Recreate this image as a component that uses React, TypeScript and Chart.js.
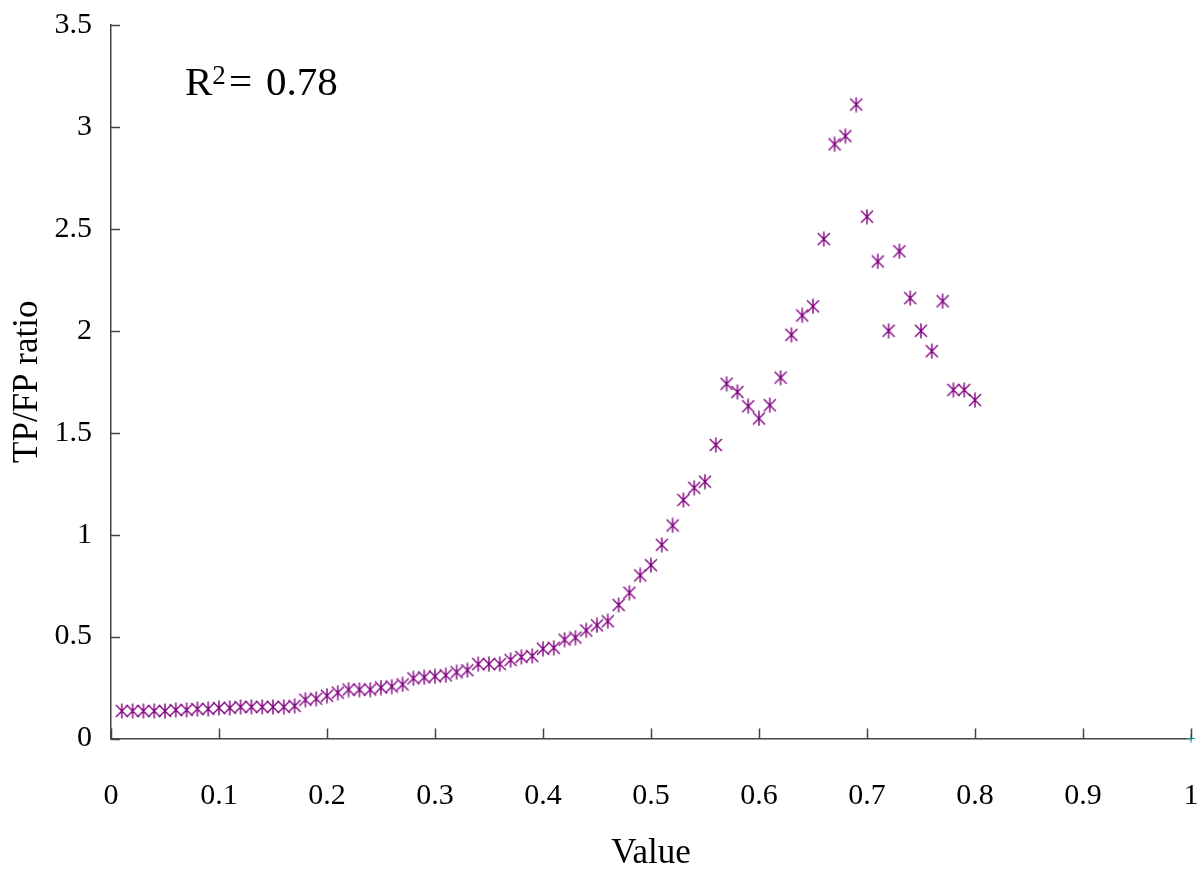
import React, { useEffect, useRef } from "react";
import { Chart, registerables } from "chart.js";

Chart.register(...registerables);

const xValues = [
  0.01, 0.02, 0.03, 0.04, 0.05, 0.06, 0.07, 0.08, 0.09, 0.1,
  0.11, 0.12, 0.13, 0.14, 0.15, 0.16, 0.17, 0.18, 0.19, 0.2,
  0.21, 0.22, 0.23, 0.24, 0.25, 0.26, 0.27, 0.28, 0.29, 0.3,
  0.31, 0.32, 0.33, 0.34, 0.35, 0.36, 0.37, 0.38, 0.39, 0.4,
  0.41, 0.42, 0.43, 0.44, 0.45, 0.46, 0.47, 0.48, 0.49, 0.5,
  0.51, 0.52, 0.53, 0.54, 0.55, 0.56, 0.57, 0.58, 0.59, 0.6,
  0.61, 0.62, 0.63, 0.64, 0.65, 0.66, 0.67, 0.68, 0.69, 0.7,
  0.71, 0.72, 0.73, 0.74, 0.75, 0.76, 0.77, 0.78, 0.79, 0.8,
];

const ratioValues = [
  0.135, 0.135, 0.135, 0.135, 0.135, 0.14, 0.14, 0.145, 0.145, 0.15,
  0.15, 0.155, 0.155, 0.155, 0.155, 0.155, 0.16, 0.19, 0.195, 0.21,
  0.225, 0.24, 0.24, 0.24, 0.25, 0.255, 0.265, 0.295, 0.3, 0.305,
  0.31, 0.325, 0.335, 0.365, 0.365, 0.365, 0.385, 0.4, 0.405, 0.44,
  0.445, 0.485, 0.495, 0.53, 0.555, 0.575, 0.655, 0.715, 0.8, 0.85,
  0.95, 1.045, 1.17, 1.23, 1.26, 1.44, 1.74, 1.7, 1.63, 1.57,
  1.635, 1.77, 1.98, 2.075, 2.12, 2.45, 2.915, 2.955, 3.11, 2.56,
  2.34, 2.0, 2.39, 2.16, 2.0, 1.9, 2.145, 1.71, 1.71, 1.66,
];

const extraX = [1];
const extraY = [0];

const xTickLabels = ["0", "0.1", "0.2", "0.3", "0.4", "0.5", "0.6", "0.7", "0.8", "0.9", "1"];
const yTickLabels = ["0", "0.5", "1", "1.5", "2", "2.5", "3", "3.5"];

const FONT = "'Liberation Serif', 'Times New Roman', serif";

function makeMarker(): HTMLCanvasElement {
  const c = document.createElement("canvas");
  c.width = 14;
  c.height = 16;
  const g = c.getContext("2d")!;
  g.strokeStyle = "#800080";
  g.lineWidth = 1.4;
  g.beginPath();
  g.moveTo(1, 2);
  g.lineTo(13, 14);
  g.moveTo(13, 2);
  g.lineTo(1, 14);
  g.moveTo(7, 0.5);
  g.lineTo(7, 15.5);
  g.stroke();
  return c;
}

const zeroPad = (s: any) => {
  s.paddingLeft = 0;
  s.paddingRight = 0;
  s.paddingTop = 0;
  s.paddingBottom = 0;
};

const innerTicks = {
  id: "innerTicks",
  afterDraw(chart: any) {
    const { ctx, chartArea, scales } = chart;
    ctx.save();
    ctx.strokeStyle = "#444";
    ctx.lineWidth = 1.5;
    ctx.beginPath();
    scales.x.ticks.forEach((t: any) => {
      const px = Math.round(scales.x.getPixelForValue(t.value)) + 0.5;
      ctx.moveTo(px, chartArea.bottom);
      ctx.lineTo(px, chartArea.bottom - 10);
    });
    scales.y.ticks.forEach((t: any) => {
      const py = Math.round(scales.y.getPixelForValue(t.value)) + 0.5;
      ctx.moveTo(chartArea.left, py);
      ctx.lineTo(chartArea.left + 9, py);
    });
    ctx.stroke();
    ctx.restore();
  },
};

const r2Label = {
  id: "r2Label",
  afterDraw(chart: any) {
    const { ctx } = chart;
    ctx.save();
    ctx.fillStyle = "#000";
    ctx.textBaseline = "alphabetic";
    ctx.textAlign = "left";
    ctx.font = `41px ${FONT}`;
    ctx.fillText("R", 185, 95);
    const rw = ctx.measureText("R").width;
    ctx.font = `27px ${FONT}`;
    ctx.fillText("2", 185 + rw, 84);
    ctx.font = `41px ${FONT}`;
    ctx.fillText("=", 229, 95);
    ctx.fillText("0.78", 266, 95);
    ctx.restore();
  },
};

export default function App() {
  const ref = useRef<HTMLCanvasElement | null>(null);

  useEffect(() => {
    if (!ref.current) return;
    const marker = makeMarker();
    const chart = new Chart(ref.current, {
      type: "scatter",
      data: {
        datasets: [
          {
            label: "TP/FP ratio",
            data: xValues.map((x, i) => ({ x, y: ratioValues[i] })),
            pointStyle: marker as any,
            pointRadius: 7,
            clip: false as any,
          },
          {
            label: "extra",
            data: extraX.map((x, i) => ({ x, y: extraY[i] })),
            pointStyle: "cross",
            pointRadius: 4,
            borderColor: "#1a9a9a",
            borderWidth: 1.2,
            clip: false as any,
          },
        ],
      },
      options: {
        animation: false,
        responsive: false,
        maintainAspectRatio: false,
        layout: { padding: { left: 0, top: 25, right: 10, bottom: 0 } },
        plugins: {
          legend: { display: false },
          tooltip: { enabled: false },
        },
        scales: {
          x: {
            type: "linear",
            min: 0,
            max: 1,
            afterFit: (s: any) => {
              s.height = 131.5;
              zeroPad(s);
            },
            afterBuildTicks: (s: any) => {
              s.ticks = xTickLabels.map((l) => ({ value: parseFloat(l) }));
            },
            ticks: {
              callback: (_v: any, i: number) => xTickLabels[i],
              font: { family: FONT, size: 30 },
              color: "#000",
              padding: 40,
              maxRotation: 0,
              autoSkip: false,
            },
            grid: { display: false, drawTicks: false },
            border: { display: true, color: "#444", width: 1.5 },
            title: {
              display: true,
              text: "Value",
              font: { family: FONT, size: 35, lineHeight: 0.9 },
              color: "#000",
              padding: { top: 0, bottom: 0 },
            },
          },
          y: {
            type: "linear",
            min: 0,
            max: 3.5,
            afterFit: (s: any) => {
              s.width = 111;
              zeroPad(s);
            },
            afterBuildTicks: (s: any) => {
              s.ticks = yTickLabels.map((l) => ({ value: parseFloat(l) }));
            },
            ticks: {
              callback: (_v: any, i: number) => yTickLabels[i],
              font: { family: FONT, size: 30 },
              color: "#000",
              padding: 19,
              autoSkip: false,
            },
            grid: { display: false, drawTicks: false },
            border: { display: true, color: "#444", width: 1.5 },
            title: {
              display: true,
              text: "TP/FP ratio",
              font: { family: FONT, size: 35, lineHeight: 0.9 },
              color: "#000",
              padding: { top: 12, bottom: 0 },
            },
          },
        },
      },
      plugins: [innerTicks, r2Label],
    });
    return () => chart.destroy();
  }, []);

  return (
    <div style={{ position: "fixed", left: 0, top: 0, width: 1201, height: 870, background: "#fff" }}>
      <canvas ref={ref} width={1201} height={870} style={{ width: 1201, height: 870, display: "block" }} />
    </div>
  );
}
